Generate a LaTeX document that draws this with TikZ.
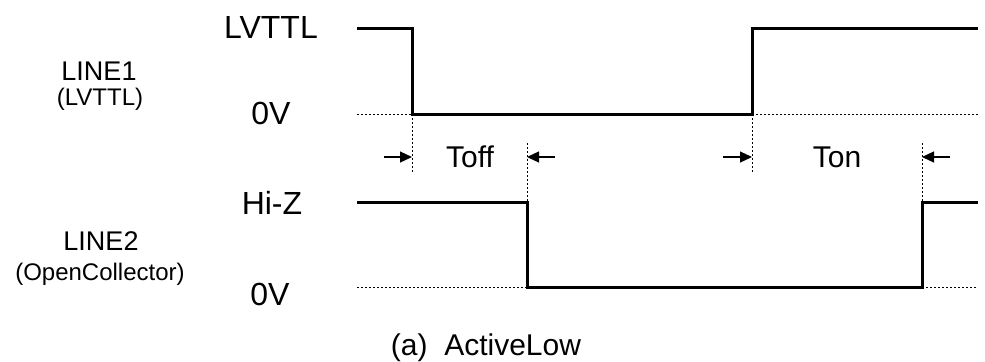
\documentclass[tikz,border=0pt]{standalone}
\usepackage{fontspec}
\setmainfont{Liberation Sans}
\usetikzlibrary{arrows.meta}

\tikzset{
  wave/.style={line width=1.5pt, line join=miter},
  guide/.style={line width=0.5pt, dash pattern=on 1pt off 1pt},
  tarrow/.style={line width=0.6pt, -{Triangle[length=6pt,width=5.5pt]}},
  lvlabel/.style={inner sep=0pt, font=\fontsize{16}{18}\selectfont},
  siglabel/.style={inner sep=0pt, font=\fontsize{13.5}{15}\selectfont},
  sublabel/.style={inner sep=0pt, font=\fontsize{12}{13}\selectfont},
  tlabel/.style={inner sep=0pt, font=\fontsize{15}{17}\selectfont},
}

\begin{document}
\begin{tikzpicture}[x=0.5pt, y=-0.5pt]
		%%%%% START %%%%%
		\useasboundingbox (0, 0) rectangle (985, 361);
		
		% labels
		\node[siglabel] (line1) at (99, 71) {LINE1};
		\node[sublabel] (line1sub) at (100, 99) {(LVTTL)};
		\node[lvlabel] (hi1) at (271, 27) {LVTTL};
		\node[lvlabel] (lo1) at (271, 113) {0V};
		
		\node[siglabel] (line2) at (101, 241) {LINE2};
		\node[sublabel] (line2sub) at (100, 274) {(OpenCollector)};
		\node[lvlabel] (hi2) at (272, 203) {Hi-Z};
		\node[lvlabel] (lo2) at (270, 294) {0V};
		
		\node[tlabel] (toff) at (470, 157) {Toff};
		\node[tlabel] (ton) at (837, 157) {Ton};
		\node[tlabel] (cap) at (486, 348) {(a)\ \ ActiveLow};
		
		% LINE1 waveform
		\coordinate (a0) at (357, 28);
		\coordinate (a1) at (412, 28);
		\coordinate (a2) at (412, 114);
		\coordinate (a3) at (752, 114);
		\coordinate (a4) at (752, 28);
		\coordinate (a5) at (978, 28);
		\coordinate (z1) at (357, 114);
		\coordinate (z2) at (978, 114);
		\draw[wave] (a0) -- (a1) -- (a2) -- (a3) -- (a4) -- (a5);
		\draw[guide] (z1) -- (a2);
		\draw[guide] (a3) -- (z2);
		
		% LINE2 waveform
		\coordinate (b0) at (357, 202);
		\coordinate (b1) at (527, 202);
		\coordinate (b2) at (527, 287);
		\coordinate (b3) at (922, 287);
		\coordinate (b4) at (922, 202);
		\coordinate (b5) at (978, 202);
		\coordinate (y1) at (357, 287);
		\coordinate (y2) at (978, 287);
		\draw[wave] (b0) -- (b1) -- (b2) -- (b3) -- (b4) -- (b5);
		\draw[guide] (y1) -- (b2);
		\draw[guide] (b3) -- (y2);
		
		% timing guides
		\coordinate (g1) at (412, 172);
		\coordinate (g2) at (752, 172);
		\coordinate (g3) at (527, 143);
		\coordinate (g4) at (922, 143);
		\draw[guide] (a2) -- (g1);
		\draw[guide] (a3) -- (g2);
		\draw[guide] (g3) -- (b1);
		\draw[guide] (g4) -- (b4);
		
		% timing arrows
		\coordinate (t1) at (384, 157);
		\coordinate (t1e) at (412, 157);
		\coordinate (t2) at (555, 157);
		\coordinate (t2e) at (527, 157);
		\coordinate (t3) at (723, 157);
		\coordinate (t3e) at (752, 157);
		\coordinate (t4) at (950, 157);
		\coordinate (t4e) at (922, 157);
		\draw[tarrow] (t1) -- (t1e);
		\draw[tarrow] (t2) -- (t2e);
		\draw[tarrow] (t3) -- (t3e);
		\draw[tarrow] (t4) -- (t4e);
		
		%%%%% END %%%%%
	\end{tikzpicture}
\end{document}
